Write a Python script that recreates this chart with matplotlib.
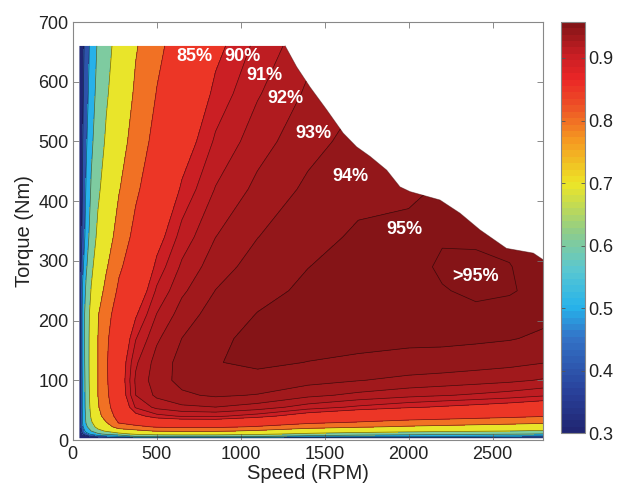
import numpy as np
import matplotlib
matplotlib.use("Agg")
import matplotlib.pyplot as plt
from matplotlib.colors import LinearSegmentedColormap, Normalize
from matplotlib.cm import ScalarMappable
from matplotlib.patches import Polygon

plt.rcParams['font.family'] = ['Liberation Sans', 'DejaVu Sans']

# grid (speed in rpm, torque in Nm)
speed = [40, 60, 80, 110, 150, 200, 275, 375, 500, 650, 850, 1100, 1400, 1700, 2000, 2200, 2400, 2600, 2800]
torque = [3, 6, 10, 15, 22, 30, 40, 55, 75, 100, 130, 170, 210, 250, 290, 340, 420, 500, 580, 660]

# efficiency, one row per torque value
efficiency = np.array([
    [0.30, 0.30, 0.30, 0.30, 0.31, 0.32, 0.33, 0.34, 0.34, 0.34, 0.34, 0.33, 0.33, 0.32, 0.32, 0.32, 0.31, 0.31, 0.30],
    [0.30, 0.33, 0.36, 0.40, 0.44, 0.47, 0.50, 0.599, 0.624, 0.631, 0.628, 0.603, 0.561, 0.533, 0.513, 0.502, 0.492, 0.482, 0.469],
    [0.31, 0.40, 0.46, 0.52, 0.58, 0.62, 0.67, 0.712, 0.734, 0.739, 0.737, 0.717, 0.680, 0.655, 0.637, 0.627, 0.617, 0.608, 0.595],
    [0.32, 0.45, 0.53, 0.60, 0.67, 0.71, 0.76, 0.785, 0.803, 0.808, 0.807, 0.791, 0.760, 0.740, 0.724, 0.715, 0.707, 0.699, 0.688],
    [0.33, 0.49, 0.58, 0.66, 0.73, 0.77, 0.83, 0.839, 0.854, 0.859, 0.858, 0.846, 0.822, 0.806, 0.793, 0.786, 0.779, 0.772, 0.763],
    [0.33, 0.51, 0.61, 0.69, 0.765, 0.80, 0.855, 0.872, 0.885, 0.889, 0.8895, 0.8802, 0.8617, 0.849, 0.838, 0.833, 0.827, 0.821, 0.814],
    [0.33, 0.52, 0.62, 0.71, 0.785, 0.82, 0.87, 0.8945, 0.9065, 0.911, 0.9119, 0.9051, 0.8908, 0.8806, 0.8723, 0.8678, 0.8635, 0.8587, 0.8522],
    [0.33, 0.53, 0.63, 0.725, 0.795, 0.835, 0.88, 0.9113, 0.9228, 0.928, 0.9299, 0.9256, 0.9153, 0.9079, 0.9017, 0.8984, 0.8951, 0.8914, 0.8863],
    [0.33, 0.53, 0.635, 0.735, 0.80, 0.842, 0.886, 0.920, 0.9322, 0.9383, 0.9415, 0.9394, 0.9326, 0.9275, 0.9231, 0.9208, 0.9184, 0.9156, 0.9116],
    [0.33, 0.53, 0.64, 0.74, 0.80, 0.845, 0.888, 0.9218, 0.9355, 0.943, 0.9476, 0.9476, 0.9436, 0.9404, 0.9374, 0.936, 0.9342, 0.9322, 0.929],
    [0.33, 0.54, 0.645, 0.74, 0.80, 0.846, 0.887, 0.9183, 0.9341, 0.9434, 0.94967, 0.95144, 0.94986, 0.9483, 0.9465, 0.9458, 0.9446, 0.9431, 0.9405],
    [0.33, 0.54, 0.65, 0.735, 0.80, 0.843, 0.882, 0.9094, 0.9283, 0.9401, 0.94834, 0.95212, 0.95292, 0.9529, 0.9523, 0.9523, 0.9516, 0.9506, 0.9484],
    [0.33, 0.54, 0.65, 0.728, 0.797, 0.835, 0.872, 0.8984, 0.9204, 0.9346, 0.94482, 0.95034, 0.95305, 0.9543, 0.9545, 0.95509, 0.95484, 0.9543, 0.95226],
    [0.33, 0.52, 0.62, 0.705, 0.775, 0.815, 0.858, 0.8865, 0.9117, 0.9281, 0.9402, 0.9473, 0.95166, 0.954, 0.9549, 0.9553, 0.95606, 0.9558, 0.9545],
    [0.32, 0.48, 0.585, 0.68, 0.75, 0.795, 0.843, 0.8758, 0.9036, 0.9219, 0.9357, 0.9441, 0.94987, 0.9531, 0.9543, 0.9560, 0.95609, 0.9556, 0.9544],
    [0.32, 0.43, 0.544, 0.648, 0.719, 0.771, 0.824, 0.8628, 0.8936, 0.9143, 0.9299, 0.9398, 0.94706, 0.9513, 0.9525, 0.9552, 0.95507, 0.9549, 0.95353],
    [0.31, 0.41, 0.51, 0.61, 0.685, 0.74, 0.797, 0.8432, 0.8783, 0.9023, 0.9206, 0.9327, 0.942, 0.9476, 0.9483, 0.951, 0.95206, 0.95237, 0.95086],
    [0.31, 0.40, 0.485, 0.58, 0.655, 0.712, 0.773, 0.8255, 0.8643, 0.891, 0.9117, 0.9257, 0.9367, 0.9435, 0.9433, 0.9466, 0.9481, 0.94864, 0.9471],
    [0.30, 0.387, 0.46, 0.553, 0.633, 0.69, 0.752, 0.8096, 0.8515, 0.8807, 0.9035, 0.919, 0.9317, 0.9394, 0.9378, 0.9417, 0.9435, 0.94431, 0.94275],
    [0.30, 0.374, 0.443, 0.531, 0.613, 0.673, 0.733, 0.7954, 0.840, 0.8713, 0.8959, 0.9129, 0.9269, 0.9355, 0.932, 0.9365, 0.9387, 0.93965, 0.938],
])

# max torque envelope beyond the flat 660 Nm part
env_speed = [1265, 1333, 1413, 1512, 1610, 1690, 1770, 1869, 1948, 2008, 2186, 2305, 2424, 2582, 2742, 2800]
env_torque = [660, 625, 591, 553, 514, 491, 475, 452, 424, 416, 402, 380, 352, 321, 313, 302]

levels = [0.3, 0.4, 0.5, 0.6, 0.7, 0.8, 0.85, 0.9, 0.91, 0.92, 0.93, 0.94, 0.95, 0.9555]

label_text = ['85%', '90%', '91%', '92%', '93%', '94%', '95%', '>95%']
label_speed = [725, 1011, 1142, 1267, 1433, 1654, 1975, 2398]
label_torque = [642, 642, 611, 572, 514, 441, 353, 274]

# muted jet-like map, as in the colorbar
anchors = [
    (0.30, (0.13, 0.15, 0.45)),
    (0.36, (0.16, 0.25, 0.60)),
    (0.45, (0.20, 0.45, 0.78)),
    (0.50, (0.15, 0.70, 0.92)),
    (0.56, (0.35, 0.78, 0.82)),
    (0.62, (0.55, 0.80, 0.55)),
    (0.70, (0.93, 0.90, 0.15)),
    (0.77, (0.96, 0.60, 0.13)),
    (0.83, (0.93, 0.30, 0.15)),
    (0.87, (0.92, 0.15, 0.15)),
    (0.91, (0.78, 0.12, 0.14)),
    (0.958, (0.52, 0.08, 0.09)),
]
vmin, vmax = 0.3, 0.958
cmap = LinearSegmentedColormap.from_list(
    'eff', [((v - vmin) / (vmax - vmin), c) for v, c in anchors], N=64)
norm = Normalize(vmin, vmax)

fig = plt.figure(figsize=(6.3, 4.9), dpi=100)
ax = fig.add_axes([0.1154, 0.102, 0.7466, 0.853])

fill_levels = [0.29] + levels[1:] + [0.97]
band_colors = [cmap(norm(v)) for v in levels]
cs = ax.contourf(speed, torque, efficiency, levels=fill_levels, colors=band_colors)
cl = ax.contour(speed, torque, efficiency, levels=levels[1:], colors='k',
                linewidths=0.5, alpha=0.55)

outline_x = [speed[0], speed[0]] + env_speed + [speed[-1]]
outline_y = [torque[0], torque[-1]] + env_torque + [torque[0]]
clip = Polygon(np.column_stack([outline_x, outline_y]), closed=True,
               transform=ax.transData, facecolor='none', edgecolor='none')
ax.add_patch(clip)
cs.set_clip_path(clip)
cl.set_clip_path(clip)
ax.plot(env_speed, env_torque, color='#4a0c0c', lw=0.6, alpha=0.5)

for t, xs, ys in zip(label_text, label_speed, label_torque):
    ax.text(xs, ys, t, color='white', fontsize=13, fontweight='bold',
            ha='center', va='center')

ax.set_xlim(0, 2800)
ax.set_ylim(0, 700)
ax.set_xticks([0, 500, 1000, 1500, 2000, 2500])
ax.set_yticks(range(0, 701, 100))
ax.tick_params(direction='in', top=True, right=True, length=4, width=0.6,
               color='#777777', labelsize=13, labelcolor='#222222')
ax.tick_params(axis='x', pad=4)
ax.tick_params(axis='y', pad=3)
for s in ax.spines.values():
    s.set_color('#888888')
    s.set_linewidth(0.8)
ax.set_xlabel('Speed (RPM)', fontsize=14.5, color='#222222', labelpad=1)
ax.set_ylabel('Torque (Nm)', fontsize=14.5, color='#222222', labelpad=3)

cax = fig.add_axes([0.890, 0.1157, 0.0386, 0.84])
cb = fig.colorbar(ScalarMappable(norm=norm, cmap=cmap), cax=cax,
                  ticks=[0.3, 0.4, 0.5, 0.6, 0.7, 0.8, 0.9])
cb.outline.set_edgecolor('#888888')
cb.outline.set_linewidth(0.8)
cax.tick_params(direction='in', left=True, right=True, length=3, width=0.6,
                color='#555555', labelsize=13, labelcolor='#222222', pad=2.5)

plt.savefig('out.png', dpi=100)
